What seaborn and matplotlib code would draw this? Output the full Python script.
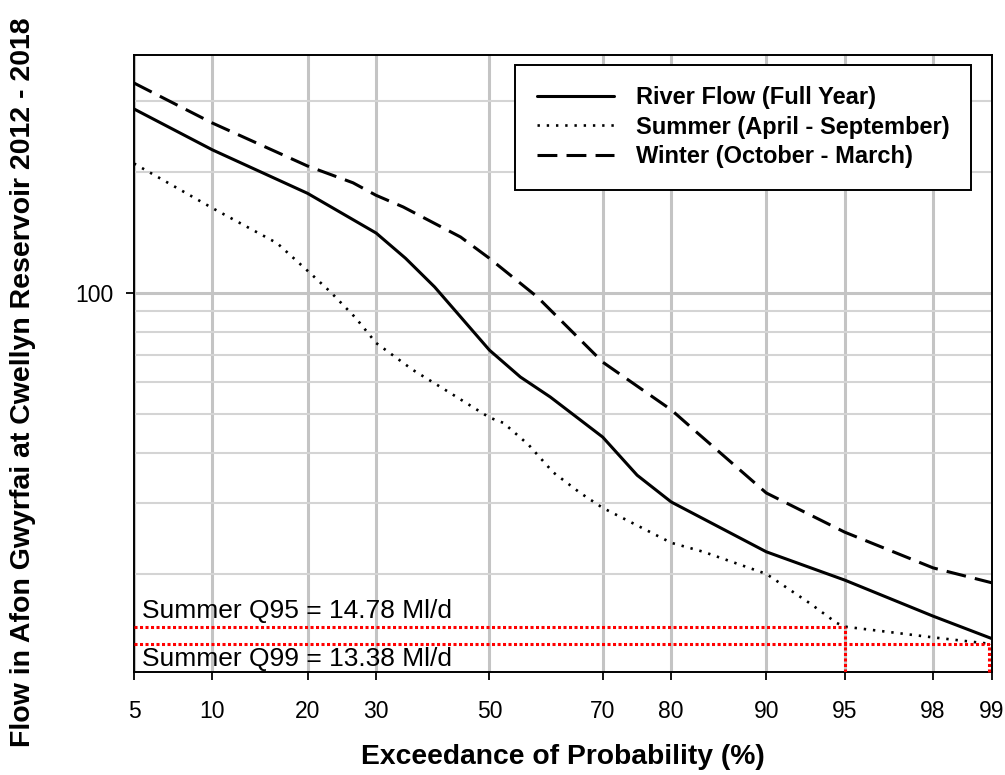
import numpy as np
import pandas as pd
import matplotlib
matplotlib.use("Agg")
import matplotlib.pyplot as plt
import matplotlib.ticker as mticker
import seaborn as sns
from statistics import NormalDist

# exceedance probability (%) and flow (Ml/d)
prob_full = [5, 10, 20, 30, 34.9, 40, 44.7, 50, 55.7, 61.1, 70, 75.3, 80, 90, 95, 98, 99]
flow_full = [287, 227, 177, 141, 122, 103.5, 87.2, 72.1, 61.8, 55.1, 43.8, 35.2, 30.2, 22.7, 19.3, 15.7, 13.8]

prob_summer = [5, 10, 16.3, 20.6, 23.1, 26.8, 30, 36.2, 42.8, 50, 52.6, 57.2, 61.6, 66.3, 70,
               80, 83.9, 90, 93.1, 94.6, 95, 96.9, 98, 99]
flow_summer = [210, 162.6, 133, 110.9, 100.6, 86.7, 75.1, 64.3, 56.4, 49, 47.5, 41.9, 35.8, 31.8, 29.2,
               23.9, 22.7, 20.0, 16.9, 15.1, 14.78, 14.3, 13.9, 13.38]

prob_winter = [5, 10, 20, 26.4, 30, 34.5, 44.7, 50, 58.8, 70, 80, 83.2, 90, 95, 98, 99]
flow_winter = [333, 264.7, 207, 188, 175, 163.7, 137.8, 122, 97.7, 67.3, 51.2, 44.9, 31.8, 25.4, 20.7, 19.0]

q95 = 14.78
q99 = 13.38

x_ticks = [5, 10, 20, 30, 50, 70, 80, 90, 95, 98, 99]
y_minor = [20, 30, 40, 50, 60, 70, 80, 90, 200, 300]
y_lim = (11.4, 391)

# normal probability scale
_nd = NormalDist()


def _ppf1(p):
    if not np.isfinite(p):
        return np.nan
    p = min(max(p, 1e-9), 1 - 1e-9)
    return _nd.inv_cdf(p)


_ppf = np.vectorize(_ppf1, otypes=[float])
_cdf = np.vectorize(lambda z: _nd.cdf(z) if np.isfinite(z) else np.nan, otypes=[float])


def fwd(p):
    return _ppf(np.asarray(p, dtype=float) / 100.0)


def inv(z):
    return _cdf(np.asarray(z, dtype=float)) * 100.0


sns.set_style("ticks")
plt.rcParams['font.family'] = ['Liberation Sans', 'DejaVu Sans']
plt.rcParams['text.color'] = 'black'
plt.rcParams['axes.labelcolor'] = 'black'
plt.rcParams['xtick.color'] = 'black'
plt.rcParams['ytick.color'] = 'black'

fig = plt.figure(figsize=(10.05, 7.75), dpi=100)
ax = fig.add_axes([134 / 1005, 1 - 672 / 775, (992 - 134) / 1005, (672 - 55) / 775])
ax.set_xscale('function', functions=(fwd, inv))
ax.set_yscale('log')

df_full = pd.DataFrame({'p': prob_full, 'q': flow_full})
df_summer = pd.DataFrame({'p': prob_summer, 'q': flow_summer})
df_winter = pd.DataFrame({'p': prob_winter, 'q': flow_winter})

sns.lineplot(data=df_full, x='p', y='q', ax=ax, color='black', linewidth=2.2,
             label='River Flow (Full Year)', sort=False)
sns.lineplot(data=df_summer, x='p', y='q', ax=ax, color='black', linewidth=1.9,
             linestyle=(0, (0.9, 2.6)), label='Summer (April - September)', sort=False)
sns.lineplot(data=df_winter, x='p', y='q', ax=ax, color='black', linewidth=2.2,
             linestyle=(0, (6.5, 3)), label='Winter (October - March)', sort=False)

# Q95 / Q99 guide lines
red_ls = (0, (1, 0.8))
ax.plot([x_ticks[0], 95], [q95, q95], color='red', lw=2.2, ls=red_ls, zorder=3)
ax.plot([95, 95], [y_lim[0], q95], color='red', lw=2.2, ls=red_ls, zorder=3)
ax.plot([x_ticks[0], 99], [q99, q99], color='red', lw=2.2, ls=red_ls, zorder=3)
ax.plot([98.96, 98.96], [y_lim[0], q99], color='red', lw=2.2, ls=red_ls, zorder=4, clip_on=False)

trans = matplotlib.transforms.blended_transform_factory(ax.transAxes, ax.transData)
ax.annotate(f'Summer Q95 = {q95:.2f} Ml/d', xy=(0, q95), xycoords=trans,
            xytext=(6, 3), textcoords='offset points', ha='left', va='bottom', fontsize=19)
ax.annotate(f'Summer Q99 = {q99:.2f} Ml/d', xy=(0, q99), xycoords=trans,
            xytext=(6, -2), textcoords='offset points', ha='left', va='top', fontsize=19)

ax.set_xlim(5, 99)
ax.set_ylim(*y_lim)

ax.set_xticks(x_ticks)
ax.set_xticklabels([str(t) for t in x_ticks])
ax.xaxis.set_minor_locator(mticker.NullLocator())
ax.set_yticks([100])
ax.set_yticklabels(['100'])
ax.set_yticks(y_minor, minor=True)
ax.yaxis.set_minor_formatter(mticker.NullFormatter())

ax.tick_params(axis='both', which='major', direction='out', length=6, width=1.3,
               labelsize=16.5, color='black')
ax.tick_params(axis='x', which='major', pad=14)
ax.tick_params(axis='y', which='major', pad=9)
ax.tick_params(axis='y', which='minor', length=0)

ax.grid(True, axis='x', which='major', color='#c4c4c4', lw=2.2)
ax.grid(True, axis='y', which='major', color='#c4c4c4', lw=2.2)
ax.grid(True, axis='y', which='minor', color='#d4d4d4', lw=1.5)
ax.set_axisbelow(True)

for s in ax.spines.values():
    s.set_visible(True)
    s.set_color('black')
    s.set_linewidth(1.4)

ax.set_xlabel('Exceedance of Probability (%)', fontsize=20.3, fontweight='bold')
ax.xaxis.set_label_coords(0.5, -(757 - 672) / 617)
ax.xaxis.label.set_va('center')
ax.set_ylabel('Flow in Afon Gwyrfai at Cwellyn Reservoir 2012 - 2018', fontsize=20.5,
              fontweight='bold')
ax.yaxis.set_label_coords((23 - 134) / 858, (672 - 382) / 617)
ax.yaxis.label.set_va('center')

handles, labels = ax.get_legend_handles_labels()
leg = ax.legend(handles[:3], labels[:3], loc='upper right', bbox_to_anchor=(0.975, 0.984),
                borderaxespad=0, frameon=True, fancybox=False, framealpha=1, edgecolor='black',
                prop={'weight': 'bold', 'size': 17}, handlelength=3.3, handletextpad=0.9,
                labelspacing=0.28, borderpad=0.9)
leg.get_frame().set_linewidth(1.4)

fig.savefig('out.png', dpi=100)
